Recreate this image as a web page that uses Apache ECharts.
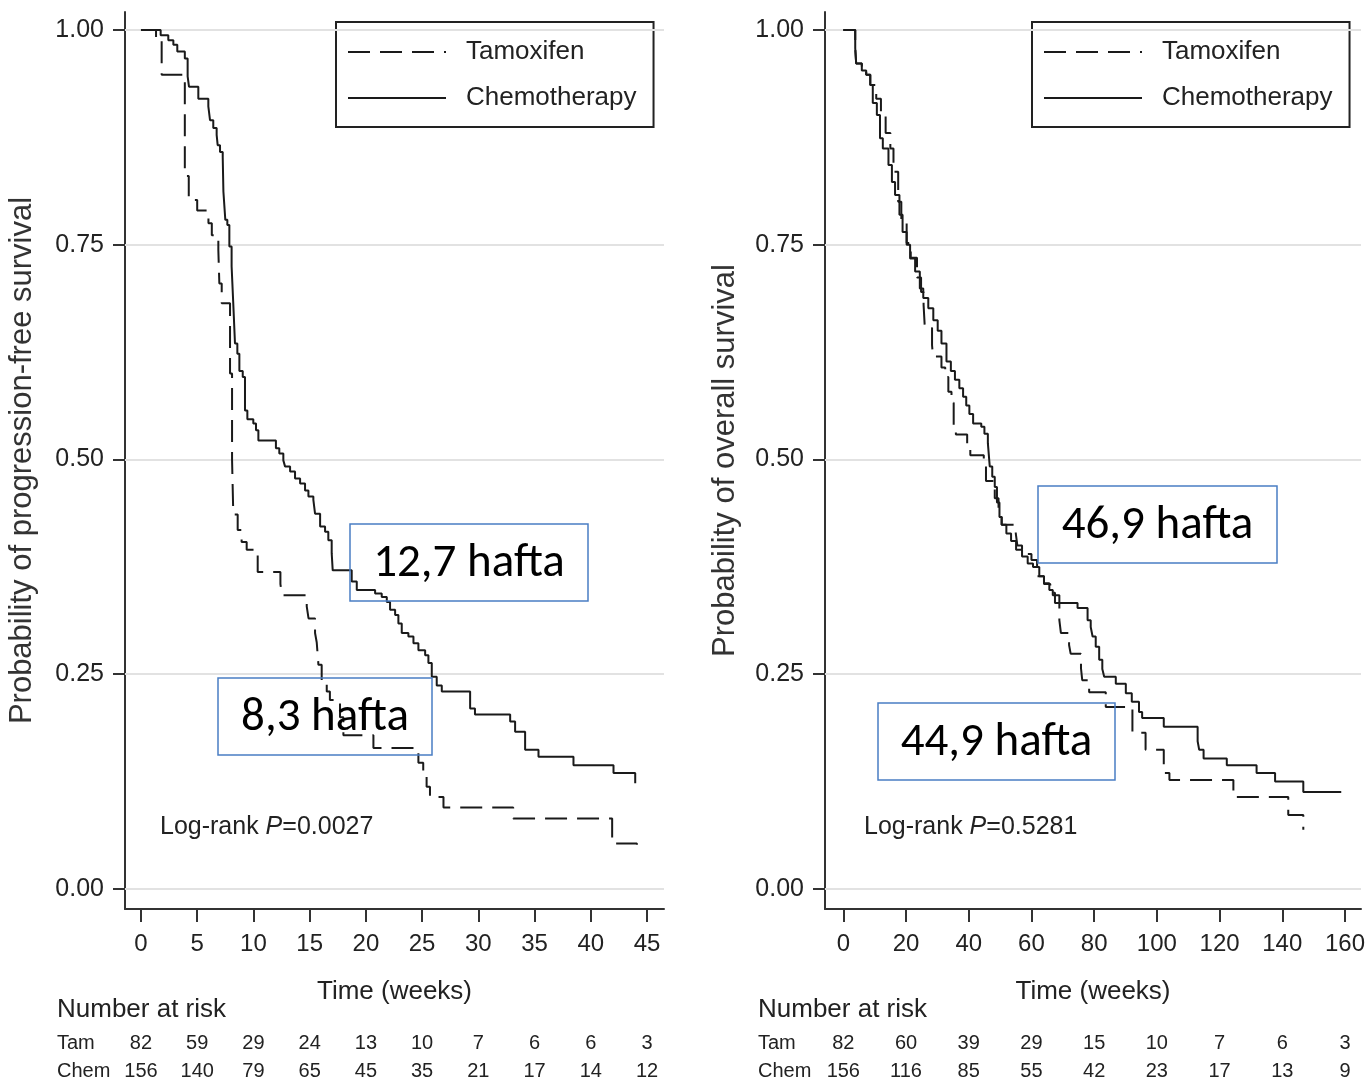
<!DOCTYPE html>
<html>
<head>
<meta charset="utf-8">
<script src="https://cdn.jsdelivr.net/npm/echarts@6/dist/echarts.min.js"></script>
<style>
html,body{margin:0;padding:0;background:#fff;}
#c{width:1371px;height:1084px;}
</style>
</head>
<body>
<div id="c"></div>
<script>
// ---------- data ----------
const ticksL = [0,5,10,15,20,25,30,35,40,45];
const ticksR = [0,20,40,60,80,100,120,140,160];
const yTicks = [0,0.25,0.5,0.75,1];

const riskTamL  = [82,59,29,24,13,10,7,6,6,3];
const riskChemL = [156,140,79,65,45,35,21,17,14,12];
const riskTamR  = [82,60,39,29,15,10,7,6,3];
const riskChemR = [156,116,85,55,42,23,17,13,9];

// Progression-free survival (weeks, probability)
const pfsTam = [[0,1],[1.34,0.988],[1.84,0.948],[3.9,0.83],[4.25,0.802],[5.0,0.79],[6.0,0.775],[6.3,0.761],
 [6.88,0.744],[6.97,0.705],[7.18,0.682],[7.92,0.60],[8.1,0.50],[8.21,0.436],[8.6,0.418],[8.95,0.404],
 [9.4,0.395],[10.38,0.369],[12.4,0.355],[12.55,0.342],[14.74,0.329],[14.9,0.315],[15.48,0.298],
 [15.63,0.287],[15.78,0.261],[16.07,0.243],[16.52,0.230],[16.8,0.220],[17.7,0.200],[18.0,0.179],
 [20.67,0.164],[24.67,0.147],[25.1,0.135],[25.4,0.119],[25.7,0.107],[26.9,0.095],[33.1,0.082],
 [41.9,0.053],[44.1,0.041]];
const pfsChem = [[0,1],[1.75,0.994],[2.43,0.988],[2.88,0.983],[3.23,0.975],[3.9,0.967],[4.15,0.946],
 [4.27,0.934],[5.1,0.920],[5.99,0.911],[6.14,0.895],[6.43,0.886],[6.73,0.878],[6.82,0.866],[7.03,0.858],
 [7.27,0.852],[7.33,0.812],[7.5,0.779],[7.68,0.773],[7.86,0.748],[8.06,0.725],[8.2,0.684],[8.36,0.635],
 [8.57,0.623],[8.75,0.603],[9.05,0.596],[9.25,0.557],[9.46,0.547],[9.99,0.542],[10.23,0.534],
 [10.44,0.522],[12.0,0.513],[12.3,0.507],[12.66,0.499],[12.81,0.492],[13.26,0.486],[13.7,0.478],
 [14.15,0.472],[14.59,0.464],[14.89,0.457],[15.33,0.453],[15.48,0.437],[15.93,0.422],[16.37,0.416],
 [16.66,0.406],[16.96,0.391],[17.05,0.371],[18.74,0.358],[19.19,0.348],[20.82,0.344],[21.41,0.340],
 [21.86,0.334],[22.15,0.325],[22.6,0.319],[22.89,0.309],[23.19,0.298],[23.78,0.294],[24.23,0.286],
 [24.67,0.278],[25.27,0.272],[25.56,0.263],[25.86,0.247],[26.3,0.237],[26.75,0.230],[29.27,0.210],
 [29.7,0.203],[32.83,0.195],[33.27,0.183],[34.16,0.162],[35.35,0.154],[38.46,0.144],[42.02,0.135],
 [43.95,0.123]];

// Overall survival (weeks, probability)
const osTam = [[0,1],[3.8,0.979],[4.1,0.961],[5.9,0.953],[7.3,0.948],[8.6,0.936],[10.5,0.92],[12.0,0.905],
 [13.5,0.88],[15.0,0.862],[16.0,0.835],[17.5,0.80],[18.5,0.78],[20.2,0.752],[21.5,0.735],[23.5,0.712],
 [24.8,0.695],[25.6,0.68],[26.0,0.653],[28.3,0.633],[28.6,0.620],[31.3,0.607],[32.5,0.596],[33.5,0.579],
 [34.5,0.566],[35.2,0.540],[35.9,0.529],[39.5,0.515],[40.5,0.505],[44.8,0.497],[45.5,0.475],[48.3,0.455],
 [49.5,0.433],[50.5,0.424],[55.0,0.414],[55.5,0.40],[57.0,0.39],[60.0,0.383],[61.8,0.364],[64.0,0.355],
 [66.0,0.345],[67.5,0.333],[68.9,0.313],[69.4,0.298],[72.0,0.284],[72.5,0.274],[75.8,0.257],[76.2,0.243],
 [78.4,0.229],[83.7,0.212],[92.2,0.182],[96.4,0.162],[102.2,0.135],[104.0,0.127],[124.4,0.107],
 [141.9,0.086],[146.7,0.069]];
const osChem = [[0,1],[3.8,0.979],[4.1,0.961],[5.9,0.953],[7.3,0.948],[8.6,0.936],[9.4,0.915],[10.7,0.901],
 [11.7,0.874],[12.6,0.862],[14.4,0.843],[15.5,0.823],[16.5,0.808],[17.9,0.785],[18.9,0.765],[20.2,0.750],
 [21.3,0.734],[22.9,0.719],[24.4,0.699],[25.5,0.688],[27.1,0.676],[28.7,0.662],[30.1,0.650],[31.3,0.635],
 [32.9,0.614],[34.3,0.603],[35.6,0.593],[37.0,0.583],[38.2,0.573],[39.2,0.563],[40.2,0.553],[41.4,0.542],
 [44.0,0.538],[45.0,0.530],[46.1,0.519],[46.7,0.492],[47.5,0.480],[48.3,0.468],[49.0,0.450],[49.8,0.433],
 [50.5,0.424],[52.0,0.414],[53.5,0.405],[55.1,0.395],[57.0,0.387],[58.8,0.379],[60.5,0.375],[62.5,0.364],
 [64.0,0.356],[65.7,0.348],[66.8,0.342],[68.9,0.333],[74.7,0.327],[77.9,0.313],[78.9,0.305],[79.5,0.294],
 [80.5,0.282],[81.6,0.267],[82.6,0.256],[83.2,0.247],[86.9,0.239],[90.1,0.228],[92.0,0.218],[94.3,0.206],
 [95.3,0.199],[102.2,0.189],[113.0,0.172],[113.5,0.162],[114.9,0.152],[122.3,0.144],[131.8,0.135],
 [137.7,0.125],[146.7,0.113],[158.8,0.113]];

// ---------- chart ----------
const FONT = '"Liberation Sans", Arial, sans-serif';
const INK = '#222';
const chart = echarts.init(document.getElementById('c'), null, {renderer:'canvas'});

function idxOf(arr, v){ return arr.findIndex(t => Math.abs(t - v) < 1e-6); }

function mainX(grid, min, max, ticks){
  return {type:'value', gridIndex:grid, min:min, max:max,
    axisLine:{show:true, onZero:false, lineStyle:{color:'#333', width:2}},
    axisTick:{show:true, customValues:ticks, length:13, lineStyle:{color:'#333', width:2}},
    axisLabel:{customValues:ticks, margin:23, fontSize:24, color:INK, fontFamily:FONT},
    splitLine:{show:false},
    name:'Time (weeks)', nameLocation:'middle', nameGap:70,
    nameTextStyle:{fontSize:26, color:INK, fontFamily:FONT}};
}
function riskX(grid, min, max, ticks, vals, offset){
  return {type:'value', gridIndex:grid, min:min, max:max, position:'bottom', offset:offset,
    axisLine:{show:false}, axisTick:{show:false}, splitLine:{show:false},
    axisLabel:{customValues:ticks, margin:8, fontSize:20, color:INK, fontFamily:FONT,
      formatter:function(v){ const i = idxOf(ticks, v); return i >= 0 ? String(vals[i]) : ''; }}};
}
function mainY(grid, name, gap){
  return {type:'value', gridIndex:grid, min:-0.0233, max:1.021,
    axisLine:{show:true, onZero:false, lineStyle:{color:'#333', width:2}},
    axisTick:{show:true, customValues:yTicks, length:12, lineStyle:{color:'#333', width:2}},
    axisLabel:{customValues:yTicks, margin:21, fontSize:25, color:INK, fontFamily:FONT,
      formatter:function(v){ return v.toFixed(2); }},
    splitLine:{show:false},
    name:name, nameLocation:'middle', nameRotate:90, nameGap:gap,
    nameTextStyle:{fontSize:31, color:'#333', fontFamily:FONT}};
}
function gridLines(xi, yi){
  return {type:'line', xAxisIndex:xi, yAxisIndex:yi, data:[], z:1, silent:true,
    markLine:{silent:true, symbol:'none', label:{show:false}, animation:false,
      lineStyle:{color:'#e2e2e2', width:2, type:'solid'},
      data: yTicks.map(v => ({yAxis:v}))}};
}
function km(name, data, xi, yi, dashed){
  return {type:'line', name:name, xAxisIndex:xi, yAxisIndex:yi, data:data, step:'end',
    symbol:'none', z:5, lineStyle:{color:'#1a1a1a', width:2, type: dashed ? [22,10] : 'solid'},
    itemStyle:{color:'#1a1a1a'}};
}
function legend(left){
  return {left:left, top:22, orient:'vertical', data:['Tamoxifen','Chemotherapy'],
    itemWidth:98, itemHeight:26, itemGap:20, padding:[17,17,16,11],
    borderColor:'#222', borderWidth:2, backgroundColor:'#fff',
    itemStyle:{opacity:0, borderWidth:0},
    textStyle:{fontSize:26, color:INK, fontFamily:FONT, padding:[0,0,0,15]},
    selectedMode:false};
}
function box(x, y, w, h, label){
  return [{type:'rect', shape:{x:x, y:y, width:w, height:h}, z:20,
      style:{fill:'none', stroke:'#4a7ec4', lineWidth:1.5}},
    {type:'text', x:x + w/2, y:y + h/2 + 2, z:21,
      style:{text:label, fill:'#000', font:'47px Carlito, Lato, "Open Sans", sans-serif',
        textAlign:'center', textVerticalAlign:'middle'}}];
}
function txt(x, y, s, size){
  return {type:'text', x:x, y:y, z:21,
    style:{text:s, fill:INK, font: size + 'px ' + FONT, textVerticalAlign:'middle'}};
}
function logrank(x, y, p){
  return {type:'text', x:x, y:y, z:21,
    style:{text:'Log-rank {i|P}=' + p, fill:INK, font:'25px ' + FONT, textVerticalAlign:'middle',
      rich:{i:{fontStyle:'italic', fontSize:25, fontFamily:FONT, fill:INK}}}};
}

const option = {
  animation:false,
  backgroundColor:'#fff',
  textStyle:{fontFamily:FONT},
  grid:[{left:125, top:12, width:539, height:897},
        {left:825, top:12, width:536, height:897}],
  xAxis:[mainX(0,-1.42,46.51,ticksL), riskX(0,-1.42,46.51,ticksL,riskTamL,116), riskX(0,-1.42,46.51,ticksL,riskChemL,144),
         mainX(1,-5.84,165.1,ticksR), riskX(1,-5.84,165.1,ticksR,riskTamR,116), riskX(1,-5.84,165.1,ticksR,riskChemR,144)],
  yAxis:[mainY(0,'Probability of progression-free survival',87),
         mainY(1,'Probability of overall survival',84)],
  legend:[legend(336), legend(1032)],
  series:[
    gridLines(0,0), gridLines(3,1),
    km('Tamoxifen', pfsTam, 0, 0, true),
    km('Chemotherapy', pfsChem, 0, 0, false),
    km('Tamoxifen', osTam, 3, 1, true),
    km('Chemotherapy', osChem, 3, 1, false)
  ],
  graphic:[].concat(
    box(350,524,238,77,'12,7 hafta'),
    box(218,678,214,77,'8,3 hafta'),
    box(1038,486,239,77,'46,9 hafta'),
    box(878,703,237,77,'44,9 hafta'),
    [logrank(160,827,'0.0027'), logrank(864,827,'0.5281'),
     txt(57,1010,'Number at risk',26), txt(758,1010,'Number at risk',26),
     txt(57,1043,'Tam',20), txt(57,1071,'Chem',20),
     txt(758,1043,'Tam',20), txt(758,1071,'Chem',20)]
  )
};
chart.setOption(option);
</script>
</body>
</html>
